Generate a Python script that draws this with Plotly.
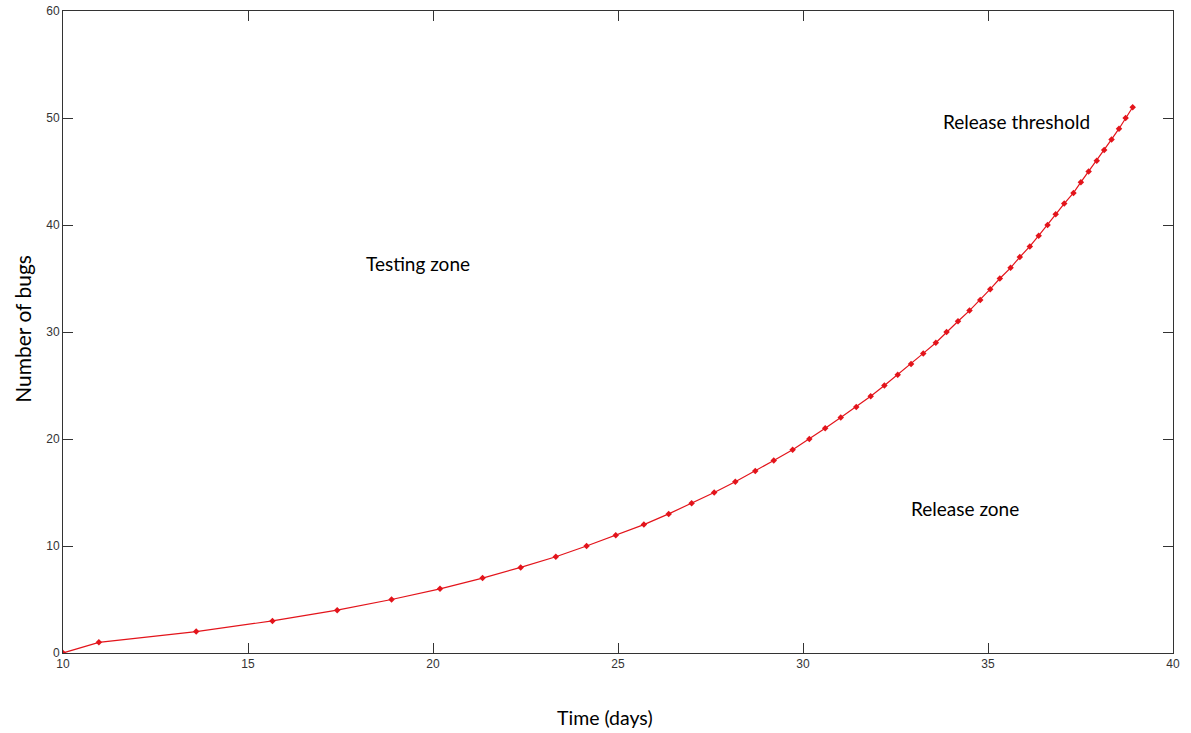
import plotly.graph_objects as go

days = [10.0, 10.97, 13.6, 15.66, 17.41, 18.88, 20.19, 21.34, 22.37, 23.32, 24.15,
        24.94, 25.70, 26.37, 26.99, 27.60, 28.17, 28.71, 29.21, 29.72, 30.17,
        30.60, 31.02, 31.44, 31.83, 32.20, 32.56, 32.92, 33.25, 33.59, 33.88,
        34.19, 34.50, 34.79, 35.06, 35.32, 35.61, 35.86, 36.13, 36.37, 36.61,
        36.83, 37.06, 37.31, 37.51, 37.72, 37.94, 38.14, 38.34, 38.54, 38.72, 38.91]
bugs = list(range(0, 52))

x_ticks = [10, 15, 20, 25, 30, 35, 40]
y_ticks = [0, 10, 20, 30, 40, 50, 60]

labels = ["Testing zone", "Release zone", "Release threshold"]
label_x = [19.59, 34.38, 35.78]
label_y = [36.36, 13.46, 49.72]

x_title = "Time (days)"
y_title = "Number of bugs"

fig = go.Figure()
fig.add_trace(go.Scatter(
    x=days, y=bugs, mode="lines+markers",
    line=dict(color="#e3141b", width=1.2),
    marker=dict(color="#e3141b", size=5, symbol="diamond"),
    showlegend=False,
))

for t, lx, ly in zip(labels, label_x, label_y):
    fig.add_annotation(x=lx, y=ly, text=t, showarrow=False,
                       font=dict(family="Lato", size=19, color="black"))

# axis titles as paper-positioned annotations
fig.add_annotation(xref="paper", yref="paper", x=0.488, y=-0.101,
                   text=x_title, showarrow=False, yanchor="middle",
                   font=dict(family="Lato", size=19.5, color="black"))
fig.add_annotation(xref="paper", yref="paper", x=-0.036, y=0.505,
                   text=y_title, showarrow=False, textangle=-90,
                   xanchor="center", yanchor="middle",
                   font=dict(family="Lato", size=21, color="black"))

axis_common = dict(
    showline=True, linecolor="#333333", linewidth=1, mirror="ticks",
    ticks="inside", ticklen=10, tickcolor="#333333", tickwidth=1,
    showgrid=False, zeroline=False, automargin=False,
    tickfont=dict(family="Liberation Sans", size=12, color="#333333"),
)

fig.update_xaxes(range=[10, 40], tickvals=x_ticks, **axis_common)
fig.update_yaxes(range=[0, 60], tickvals=y_ticks, **axis_common)

fig.update_layout(
    width=1191, height=733,
    margin=dict(l=63, r=18, t=11, b=80),
    plot_bgcolor="white", paper_bgcolor="white",
)

fig.write_html("out.html")
